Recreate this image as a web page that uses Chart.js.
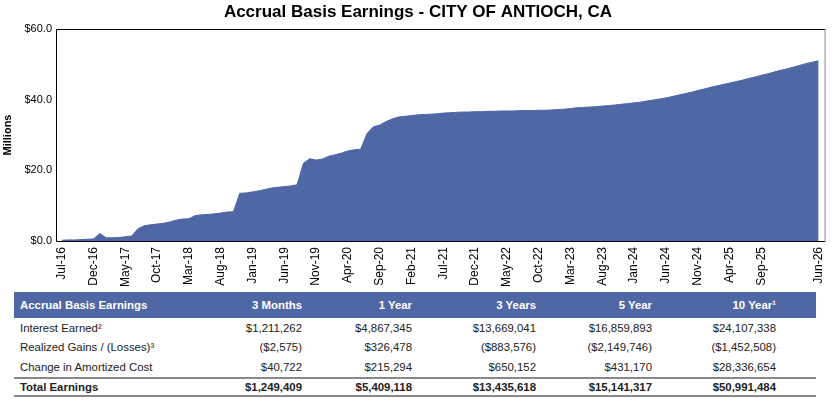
<!DOCTYPE html>
<html>
<head>
<meta charset="utf-8">
<script src="https://cdn.jsdelivr.net/npm/chart.js@4/dist/chart.umd.min.js"></script>
<style>
  body { margin:0; background:#fff; font-family: Arial, "Liberation Sans", sans-serif; }
  #wrap { position:relative; width:839px; height:287px; }
  table { position:absolute; left:14px; top:292px; border-collapse:collapse; width:802px; font-size:11.4px; color:#222; table-layout:fixed; }
  th { background:#4F67A5; color:#fff; font-weight:bold; height:26px; padding:0; text-align:right; }
  th:first-child, td:first-child { text-align:left; padding-left:6px; }
  td { height:19.5px; padding:0; text-align:right; }
  th:last-child, td:last-child { padding-right:40px; }
  tr.total td { font-weight:bold; border-top:2px solid #888; border-bottom:2px solid #888; height:16px; }
</style>
</head>
<body>
<div id="wrap"><canvas id="c"></canvas></div>
<table id="t">
  <colgroup><col style="width:180px"><col style="width:108px"><col style="width:110px"><col style="width:124px"><col style="width:116px"><col style="width:164px"></colgroup>
  <thead><tr id="hdr"></tr></thead>
  <tbody id="tb"></tbody>
</table>
<script>
const months = ["Jul-16","Aug-16","Sep-16","Oct-16","Nov-16","Dec-16","Jan-17","Feb-17","Mar-17","Apr-17","May-17","Jun-17",
"Jul-17","Aug-17","Sep-17","Oct-17","Nov-17","Dec-17","Jan-18","Feb-18","Mar-18","Apr-18","May-18","Jun-18",
"Jul-18","Aug-18","Sep-18","Oct-18","Nov-18","Dec-18","Jan-19","Feb-19","Mar-19","Apr-19","May-19","Jun-19",
"Jul-19","Aug-19","Sep-19","Oct-19","Nov-19","Dec-19","Jan-20","Feb-20","Mar-20","Apr-20","May-20","Jun-20",
"Jul-20","Aug-20","Sep-20","Oct-20","Nov-20","Dec-20","Jan-21","Feb-21","Mar-21","Apr-21","May-21","Jun-21",
"Jul-21","Aug-21","Sep-21","Oct-21","Nov-21","Dec-21","Jan-22","Feb-22","Mar-22","Apr-22","May-22","Jun-22",
"Jul-22","Aug-22","Sep-22","Oct-22","Nov-22","Dec-22","Jan-23","Feb-23","Mar-23","Apr-23","May-23","Jun-23",
"Jul-23","Aug-23","Sep-23","Oct-23","Nov-23","Dec-23","Jan-24","Feb-24","Mar-24","Apr-24","May-24","Jun-24",
"Jul-24","Aug-24","Sep-24","Oct-24","Nov-24","Dec-24","Jan-25","Feb-25","Mar-25","Apr-25","May-25","Jun-25",
"Jul-25","Aug-25","Sep-25","Oct-25","Nov-25","Dec-25","Jan-26","Feb-26","Mar-26","Apr-26","May-26","Jun-26"];

// cumulative earnings, millions
const earnings = [0.2,0.3,0.3,0.4,0.5,0.6,2.1,0.9,0.9,1.0,1.2,1.4,
3.5,4.3,4.6,4.8,5.0,5.4,5.9,6.2,6.3,7.2,7.4,7.5,
7.7,7.9,8.2,8.3,13.5,13.6,13.9,14.2,14.6,15.0,15.2,15.4,
15.6,15.9,22.0,23.3,22.9,23.2,24.0,24.4,24.9,25.5,25.8,26.0,
30.4,32.3,32.8,33.8,34.6,35.1,35.3,35.5,35.7,35.8,35.9,36.0,
36.2,36.3,36.4,36.5,36.5,36.6,36.6,36.7,36.7,36.8,36.8,36.8,
36.9,36.9,36.9,37.0,37.0,37.1,37.2,37.3,37.5,37.7,37.8,37.9,
38.0,38.2,38.3,38.5,38.7,38.9,39.1,39.3,39.6,39.9,40.2,40.5,
40.9,41.3,41.7,42.1,42.6,43.0,43.5,43.9,44.3,44.7,45.1,45.5,
46.0,46.4,46.9,47.3,47.8,48.3,48.7,49.2,49.7,50.2,50.6,51.0];

const xTickLabels = ["Jul-16","Dec-16","May-17","Oct-17","Mar-18","Aug-18","Jan-19","Jun-19","Nov-19","Apr-20","Sep-20","Feb-21","Jul-21","Dec-21","May-22","Oct-22","Mar-23","Aug-23","Jan-24","Jun-24","Nov-24","Apr-25","Sep-25","Jun-26"];
const yTicks = [0,20,40,60];

const tableHeaders = ["Accrual Basis Earnings","3 Months","1 Year","3 Years","5 Year","10 Year\u00B9"];
const rowInterest = ["Interest Earned\u00B2","$1,211,262","$4,867,345","$13,669,041","$16,859,893","$24,107,338"];
const rowGains = ["Realized Gains / (Losses)\u00B3","($2,575)","$326,478","($883,576)","($2,149,746)","($1,452,508)"];
const rowAmort = ["Change in Amortized Cost","$40,722","$215,294","$650,152","$431,170","$28,336,654"];
const rowTotal = ["Total Earnings","$1,249,409","$5,409,118","$13,435,618","$15,141,317","$50,991,484"];

// table
const hdr = document.getElementById('hdr');
tableHeaders.forEach(h => { const th=document.createElement('th'); th.textContent=h; hdr.appendChild(th); });
const tb = document.getElementById('tb');
[[rowInterest,''],[rowGains,''],[rowAmort,''],[rowTotal,'total']].forEach(([r,cls]) => {
  const tr=document.createElement('tr'); if(cls) tr.className=cls;
  r.forEach(v=>{const td=document.createElement('td'); td.textContent=v; tr.appendChild(td);});
  tb.appendChild(tr);
});

const FONT = "Arial, 'Liberation Sans', sans-serif";
const fill = '#4F67A5';
const points = earnings.map((v,i)=>({x:i,y:v}));
const tickIdx = xTickLabels.map(l => months.indexOf(l));

const borderPlugin = {
  id:'frame',
  afterDraw(chart){
    const {ctx, chartArea:a} = chart;
    ctx.save();
    ctx.lineWidth = 1;
    ctx.strokeStyle = '#000';
    ctx.beginPath();
    ctx.moveTo(a.right, a.top+0.5); ctx.lineTo(a.left+0.5, a.top+0.5);
    ctx.lineTo(a.left+0.5, a.bottom+0.5); ctx.lineTo(a.right, a.bottom+0.5);
    ctx.stroke();
    ctx.strokeStyle = '#888';
    ctx.beginPath();
    ctx.moveTo(a.right-0.5, a.top); ctx.lineTo(a.right-0.5, a.bottom+1);
    ctx.stroke();
    ctx.restore();
  }
};

new Chart(document.getElementById('c'), {
  type:'line',
  data:{ datasets:[{ data:points, fill:'origin', backgroundColor:fill, borderColor:fill, borderWidth:1, pointRadius:0, tension:0 }] },
  options:{
    responsive:true, maintainAspectRatio:false, animation:false,
    layout:{ padding:{ left:0, right:3, top:0, bottom:0 } },
    plugins:{
      legend:{ display:false }, tooltip:{ enabled:false },
      title:{ display:true, text:'Accrual Basis Earnings - CITY OF ANTIOCH, CA', color:'#000',
        font:{ family:FONT, size:17, weight:'bold' }, padding:{ top:2, bottom:6.6 } }
    },
    scales:{
      x:{ type:'linear', min:-0.9, max:120.1,
        grid:{ display:false, drawTicks:false }, border:{ display:false },
        afterBuildTicks(s){ s.ticks = tickIdx.map(v=>({value:v})); },
        afterFit(s){ s.height = 46; },
        ticks:{ autoSkip:false, minRotation:90, maxRotation:90, padding:6, color:'#000',
          font:{ family:FONT, size:12 }, callback:(v)=> months[v] }
      },
      y:{ min:0, max:60,
        grid:{ display:false, drawTicks:false }, border:{ display:false },
        afterBuildTicks(s){ s.ticks = yTicks.map(v=>({value:v})); },
        afterFit(s){ s.width = 56; },
        title:{ display:true, text:'Millions', color:'#000', font:{ family:FONT, size:11, weight:'bold' }, padding:{top:1,bottom:0} },
        ticks:{ padding:4, color:'#000', font:{ family:FONT, size:11 }, callback:(v)=> '$'+v.toFixed(1) }
      }
    }
  },
  plugins:[borderPlugin]
});
</script>
</body>
</html>
